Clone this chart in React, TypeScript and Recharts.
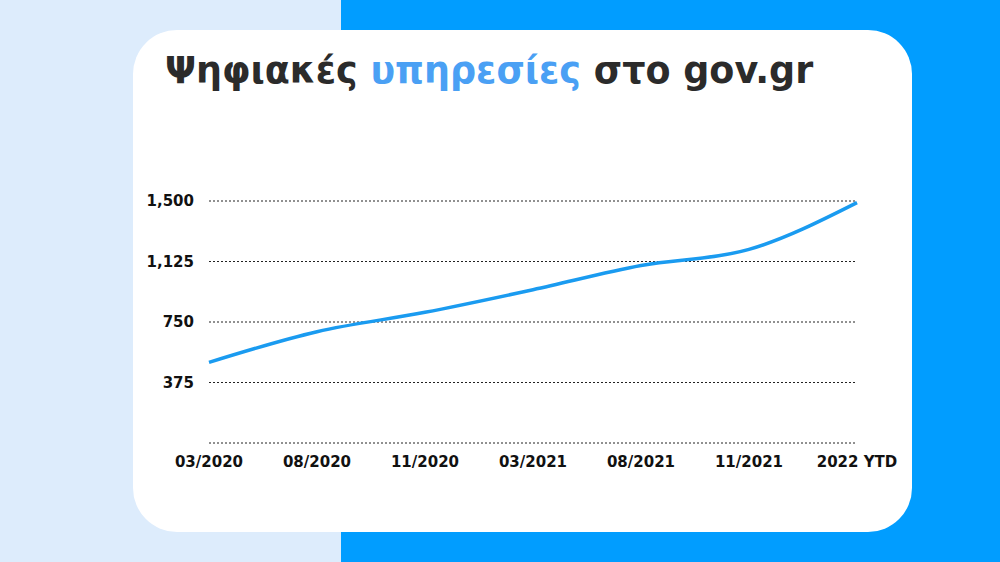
import React from 'react';
import { LineChart, Line, XAxis, YAxis, CartesianGrid } from 'recharts';

const categories = ['03/2020', '08/2020', '11/2020', '03/2021', '08/2021', '11/2021', '2022 YTD'];
const services = [500, 690, 810, 950, 1100, 1200, 1490];
const yTicks = [0, 375, 750, 1125, 1500];

const data = categories.map((c, i) => ({ period: c, value: services[i] }));

const font = '"DejaVu Sans", sans-serif';

export default function App() {
  return (
    <div style={{ position: 'absolute', left: 0, top: 0, width: 1000, height: 562, overflow: 'hidden', background: '#ddecfc' }}>
      <div style={{ position: 'absolute', left: 341, top: 0, width: 659, height: 562, background: '#019dff' }} />
      <div style={{ position: 'absolute', left: 133, top: 30, width: 779, height: 502, background: '#ffffff', borderRadius: 44 }} />
      <div style={{ position: 'absolute', left: 165, top: 46, fontFamily: font, fontWeight: 700, fontSize: 36.5, color: '#2b2b2b', whiteSpace: 'nowrap', lineHeight: '50px' }}>
        Ψηφιακές <span style={{ color: '#4aa0f4' }}>υπηρεσίες</span> στο gov.gr
      </div>
      <div style={{ position: 'absolute', left: 0, top: 0 }}>
        <LineChart width={1000} height={562} data={data} margin={{ top: 201, right: 143, bottom: 89, left: 149 }}>
          <CartesianGrid vertical={false} stroke="#222" strokeDasharray="2 2" strokeWidth={1} />
          <XAxis
            dataKey="period"
            height={30}
            axisLine={false}
            tickLine={false}
            tickSize={0}
            tickMargin={13}
            interval={0}
            padding={{ left: 0, right: 0 }}
            tick={{ fill: '#111', fontFamily: font, fontWeight: 700, fontSize: 15 }}
          />
          <YAxis
            width={60}
            domain={[0, 1500]}
            ticks={yTicks}
            axisLine={false}
            tickLine={false}
            tickSize={0}
            tickMargin={15}
            tickFormatter={(v: number) => (v === 0 ? '' : v.toLocaleString('en-US'))}
            tick={{ fill: '#111', fontFamily: font, fontWeight: 700, fontSize: 15 }}
          />
          <Line type="monotone" dataKey="value" stroke="#1a9bf0" strokeWidth={3.5} dot={false} isAnimationActive={false} />
        </LineChart>
      </div>
    </div>
  );
}
